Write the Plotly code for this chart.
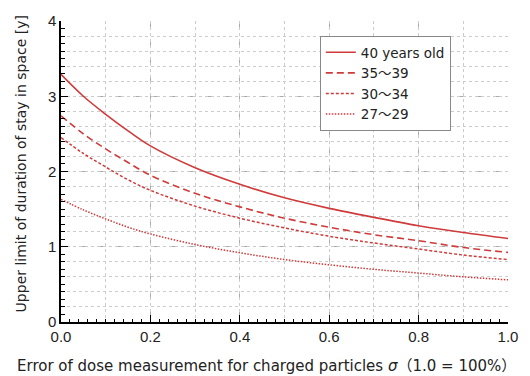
import plotly.graph_objects as go

# Data
sigma = [0.0, 0.05, 0.1, 0.15, 0.2, 0.3, 0.4, 0.5, 0.6, 0.7, 0.8, 0.9, 1.0]
age40 = [3.29, 3.00, 2.76, 2.54, 2.34, 2.05, 1.83, 1.65, 1.51, 1.39, 1.28, 1.19, 1.11]
age35_39 = [2.74, 2.50, 2.30, 2.12, 1.95, 1.71, 1.53, 1.38, 1.26, 1.16, 1.08, 0.99, 0.925]
age30_34 = [2.45, 2.24, 2.06, 1.89, 1.75, 1.54, 1.38, 1.25, 1.14, 1.05, 0.97, 0.89, 0.83]
age27_29 = [1.63, 1.49, 1.37, 1.26, 1.17, 1.03, 0.92, 0.83, 0.76, 0.70, 0.65, 0.60, 0.56]

names = ["40 years old", "35～39", "30～34", "27～29"]
series = [age40, age35_39, age30_34, age27_29]
dashes = ["solid", "7px,4px", "3px,2px", "1.5px,1.5px"]
widths = [1.6, 1.6, 1.5, 1.5]

RED = "#cf3a3a"
TXT = "DejaVu Sans, Noto Sans CJK JP"
fig = go.Figure()

# invisible trace on overlay axes to draw dotted minor grid
fig.add_trace(go.Scatter(x=[0, 1], y=[0, 4], xaxis="x2", yaxis="y2",
                         mode="markers", marker=dict(opacity=0),
                         showlegend=False, hoverinfo="skip"))

for n, s, d, w in zip(names, series, dashes, widths):
    fig.add_trace(go.Scatter(x=sigma, y=s, name=n, mode="lines",
                             line=dict(color=RED, width=w, dash=d, shape="spline")))

tickfont = dict(family="Liberation Sans, Arial", size=15, color="#222")

fig.update_layout(
    width=530, height=376,
    margin=dict(l=61, r=13, t=18, b=54),
    paper_bgcolor="white", plot_bgcolor="white",
    showlegend=True,
    legend=dict(x=0.579, y=0.95, xanchor="left", yanchor="top",
                bgcolor="white", bordercolor="#888", borderwidth=1,
                font=dict(family=TXT, size=13.5, color="#222"),
                tracegroupgap=0),
    xaxis=dict(range=[0, 1], dtick=0.2, tickformat=".1f",
               showline=True, linecolor="black", linewidth=1.5,
               ticks="inside", ticklen=7, tickcolor="black", tickwidth=1,
               showgrid=True, gridcolor="#aaa", griddash="dash", gridwidth=1,
               zeroline=False, tickfont=tickfont,
               minor=dict(dtick=0.02, ticks="inside", ticklen=3,
                          tickcolor="black", showgrid=False)),
    yaxis=dict(range=[0, 4], dtick=1,
               showline=True, linecolor="black", linewidth=1.5,
               ticks="inside", ticklen=7, tickcolor="black", tickwidth=1,
               showgrid=True, gridcolor="#aaa", griddash="dash", gridwidth=1,
               zeroline=False, tickfont=tickfont,
               minor=dict(dtick=0.1, ticks="inside", ticklen=4,
                          tickcolor="black", showgrid=False)),
    xaxis2=dict(range=[0, 1], dtick=0.1, overlaying="x", showticklabels=False,
                ticks="", showgrid=True, gridcolor="#ccc", griddash="dot",
                gridwidth=1, zeroline=False, showline=False),
    yaxis2=dict(range=[0, 4], dtick=0.2, overlaying="y", showticklabels=False,
                ticks="", showgrid=True, gridcolor="#ccc", griddash="dot",
                gridwidth=1, zeroline=False, showline=False),
    annotations=[
        dict(text="Error of dose measurement for charged particles <i>σ</i>（1.0 = 100%）",
             xref="paper", yref="paper", x=(271 - 61) / 456, y=-(366 - 322) / 304,
             xanchor="center", yanchor="middle", showarrow=False,
             font=dict(family=TXT, size=15, color="#222")),
        dict(text="Upper limit of duration of stay in space [y]",
             xref="paper", yref="paper", x=(20 - 61) / 456, y=(322 - 162) / 304,
             xanchor="center", yanchor="middle", showarrow=False, textangle=-90,
             font=dict(family=TXT, size=14, color="#222")),
    ],
)

fig.write_html("out.html")
